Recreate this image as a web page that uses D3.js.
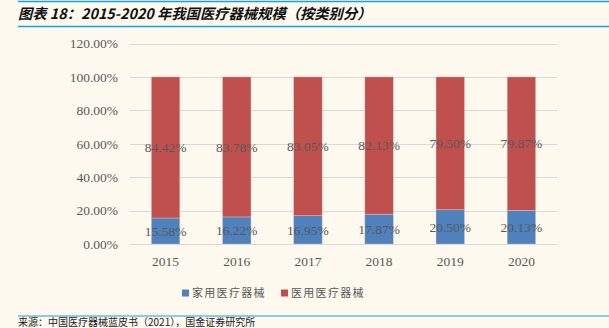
<!DOCTYPE html>
<html>
<head>
<meta charset="utf-8">
<script src="https://cdn.jsdelivr.net/npm/d3@7"></script>
<style>
  body { margin: 0; background: #fdf9ef; }
  svg { display: block; }
</style>
</head>
<body>
<script>
const years = ['2015', '2016', '2017', '2018', '2019', '2020'];
const homeShare = [15.58, 16.22, 16.95, 17.87, 20.50, 20.13];
const medicalShare = [84.42, 83.78, 83.05, 82.13, 79.50, 79.87];
const yTicks = [0, 20, 40, 60, 80, 100, 120];
const seriesNames = ['家用医疗器械', '医用医疗器械'];
const seriesColors = ['#4f81bd', '#c0504d'];

const W = 609, H = 328;
const svg = d3.select('body').append('svg').attr('width', W).attr('height', H);

svg.append('rect').attr('width', W).attr('height', H).attr('fill', '#fdf9ef');

// header rules and title
svg.append('line').attr('x1', 18).attr('x2', W).attr('y1', 1.5).attr('y2', 1.5)
  .attr('stroke', '#1aa0dc').attr('stroke-width', 1.5);
svg.append('text').attr('x', 18).attr('y', 19)
  .attr('font-family', '"Noto Sans CJK SC", sans-serif')
  .attr('font-size', 14.3).attr('font-weight', 'bold').attr('font-style', 'italic')
  .attr('fill', '#111')
  .text('图表 18：2015-2020 年我国医疗器械规模（按类别分）');
svg.append('line').attr('x1', 18).attr('x2', W).attr('y1', 26.5).attr('y2', 26.5)
  .attr('stroke', '#1aa0dc').attr('stroke-width', 1.5);

const x = d3.scaleBand().domain(years).range([130, 557]).paddingInner(0.6).paddingOuter(0.3);
const y = d3.scaleLinear().domain([0, 120]).range([244, 43.5]);

const serif = '"Liberation Serif", "DejaVu Serif", serif';

// gridlines
svg.append('g').selectAll('line').data(yTicks).join('line')
  .attr('x1', 130).attr('x2', 557)
  .attr('y1', d => Math.round(y(d)) + 0.5).attr('y2', d => Math.round(y(d)) + 0.5)
  .attr('stroke', '#d9d9d9').attr('stroke-width', 1);

// y axis
const yAxis = svg.append('g').attr('transform', 'translate(122,0)')
  .call(d3.axisLeft(y).tickValues(yTicks).tickSize(0).tickPadding(4).tickFormat(d => d.toFixed(2) + '%'));
yAxis.select('.domain').remove();
yAxis.selectAll('text').attr('font-family', serif).attr('font-size', 13.5).attr('fill', '#595959');

// x axis
const xAxis = svg.append('g').attr('transform', 'translate(0,252)')
  .call(d3.axisBottom(x).tickSize(0).tickPadding(4));
xAxis.select('.domain').remove();
xAxis.selectAll('text').attr('font-family', serif).attr('font-size', 13.5).attr('fill', '#595959');

// stacked bars
const rows = years.map((yr, i) => ({ year: yr, home: homeShare[i], medical: medicalShare[i] }));
const stack = d3.stack().keys(['home', 'medical'])(rows);

const layers = svg.append('g').selectAll('g').data(stack).join('g')
  .attr('fill', (d, i) => seriesColors[i]);

layers.selectAll('rect').data(d => d).join('rect')
  .attr('x', d => x(d.data.year))
  .attr('width', x.bandwidth())
  .attr('y', d => y(d[1]))
  .attr('height', d => y(d[0]) - y(d[1]))
  .attr('stroke', '#e9c9c2').attr('stroke-width', 0.6).attr('stroke-opacity', 0.7);

// value labels centred in each segment
layers.selectAll('text').data(d => d).join('text')
  .attr('x', d => x(d.data.year) + x.bandwidth() / 2)
  .attr('y', d => y((d[0] + d[1]) / 2))
  .attr('dy', '0.35em')
  .attr('text-anchor', 'middle')
  .attr('font-family', serif).attr('font-size', 13.5).attr('fill', '#595959')
  .text(d => (d[1] - d[0]).toFixed(2) + '%');

// legend
const legend = svg.append('g').attr('transform', 'translate(182,293)');
const items = legend.selectAll('g').data(seriesNames).join('g')
  .attr('transform', (d, i) => `translate(${i * 99},0)`);
items.append('rect').attr('x', 0).attr('y', -3.5).attr('width', 7).attr('height', 7)
  .attr('fill', (d, i) => seriesColors[i]);
items.append('text').attr('x', 10).attr('y', 0).attr('dy', '0.35em')
  .attr('font-family', '"Noto Sans CJK SC", sans-serif').attr('font-size', 11)
  .attr('letter-spacing', 1.3)
  .attr('fill', '#595959').text(d => d);

// footer
svg.append('line').attr('x1', 18).attr('x2', W).attr('y1', 316).attr('y2', 316)
  .attr('stroke', '#1aa0dc').attr('stroke-width', 1.2);
svg.append('text').attr('x', 18).attr('y', 326)
  .attr('font-family', '"Noto Sans CJK SC", sans-serif').attr('font-size', 10)
  .attr('fill', '#222')
  .text('来源：中国医疗器械蓝皮书（2021），国金证券研究所');
</script>
</body>
</html>
